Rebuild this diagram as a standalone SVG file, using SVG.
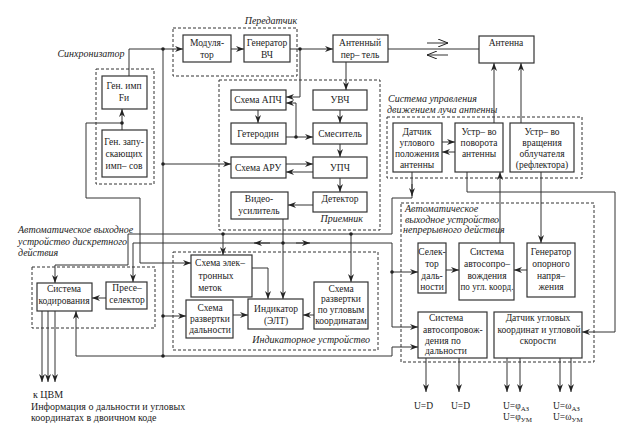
<svg xmlns="http://www.w3.org/2000/svg" width="631" height="432" viewBox="0 0 631 432">
<defs>
<marker id="a" viewBox="0 0 8 6" refX="8" refY="3" markerWidth="8" markerHeight="6" markerUnits="userSpaceOnUse" orient="auto"><path d="M0,0 L8,3 L0,6 L2.5,3 z" fill="#222"/></marker>
<marker id="o" viewBox="0 0 10 8" refX="10" refY="4" markerWidth="10" markerHeight="8" markerUnits="userSpaceOnUse" orient="auto"><path d="M0,0 L10,4 L0,8" fill="none" stroke="#222" stroke-width="1"/></marker>
</defs>
<style>
.b{fill:#fff;stroke:#333;stroke-width:1.2}
.g{fill:none;stroke:#333;stroke-width:1;stroke-dasharray:3,2}
.l{fill:none;stroke:#333;stroke-width:1}
.l2{fill:none;stroke:#333;stroke-width:1;marker-end:url(#a)}
.t{font-family:"Liberation Serif","Times New Roman",serif;font-size:9.5px;fill:#222;text-anchor:middle}
.s{font-family:"Liberation Serif","Times New Roman",serif;font-size:9.5px;fill:#222}
.i{font-family:"Liberation Serif","Times New Roman",serif;font-size:10px;font-style:italic;fill:#222}
.n{font-family:"Liberation Serif","Times New Roman",serif;font-size:10px;fill:#222}
.d{fill:#222}
</style>
<rect width="631" height="432" fill="#fff"/>

<g id="groups">
<rect class="g" x="173" y="28" width="124" height="48"/>
<text class="i" x="271" y="24" text-anchor="middle">Передатчик</text>
<rect class="g" x="96" y="69" width="58" height="115"/>
<text class="i" x="91" y="57" text-anchor="middle">Синхронизатор</text>
<rect class="g" x="219" y="80" width="161" height="150"/>
<text class="i" x="363" y="222" text-anchor="end">Приемник</text>
<rect class="g" x="387" y="117" width="195" height="61"/>
<text class="i" x="388" y="102">Система управления</text>
<text class="i" x="387" y="113">движением луча антенны</text>
<rect class="g" x="401" y="203" width="193" height="159"/>
<text class="i" x="405" y="212">Автоматическое</text>
<text class="i" x="405" y="223">выходное устройство</text>
<text class="i" x="403" y="233">непрерывного действия</text>
<rect class="g" x="32" y="267" width="123" height="61"/>
<text class="i" x="18" y="233">Автоматическое выходное</text>
<text class="i" x="18" y="245">устройство дискретного</text>
<text class="i" x="18" y="256">действия</text>
<rect class="g" x="173" y="252" width="205" height="98"/>
<text class="i" x="370" y="343" text-anchor="end">Индикаторное устройство</text>
</g>

<g id="connectors">
<path class="l2" d="M129,76 V49 H183"/>
<path class="l2" d="M231,49 H244"/>
<path class="l2" d="M290,49 H333"/>
<path class="l" d="M388,49 H479"/>
<path class="l" d="M427,43 H448" marker-end="url(#o)"/>
<path class="l" d="M448,55 H427" marker-end="url(#o)"/>
<path class="l2" d="M346,62 V90"/>
<path class="l2" d="M300,49 V97 H286"/>
<path class="l2" d="M286,137 H313"/>
<path class="l2" d="M296,137 V103 H286"/>
<path class="l2" d="M258,110 V123"/>
<path class="l2" d="M340,110 V123"/>
<path class="l2" d="M340,144 V157"/>
<path class="l2" d="M340,178 V192"/>
<path class="l2" d="M313,205 H288"/>
<path class="l2" d="M286,164 H313"/>
<path class="l2" d="M313,172 H286"/>
<path class="l" d="M163,49 V356"/>
<path class="l2" d="M163,164 H231"/>
<path class="l2" d="M163,316 H186"/>
<path class="l2" d="M163,356 H76 V311"/>
<path class="l2" d="M163,356 H392 V347 H418"/>
<path class="l2" d="M122,130 V109"/>
<path class="l2" d="M122,123 H86 V198 H140 V263 H191"/>
<path class="l2" d="M283,219 V299"/>
<path class="l2" d="M392,243 H133 V282"/>
<path class="l2" d="M392,243 V327 H418"/>
<path class="l2" d="M392,272 H418"/>
<path class="l2" d="M270,243 H254"/>
<path class="l2" d="M296,243 H310"/>
<path class="l" d="M412,172 V198 H392 V234 H128 V265 H55 V283" marker-end="url(#a)"/>
<path class="l2" d="M412,184 V196"/>
<path class="l2" d="M223,234 V255"/>
<path class="l2" d="M351,234 V282"/>
<path class="l2" d="M252,268 H268 V299"/>
<path class="l2" d="M233,315 H248"/>
<path class="l2" d="M314,315 H303"/>
<path class="l2" d="M106,298 H92"/>
<path class="l2" d="M42,311 V382"/>
<path class="l2" d="M48,311 V382"/>
<path class="l2" d="M55,311 V382"/>
<path class="l2" d="M442,142 H455"/>
<path class="l2" d="M455,152 H442"/>
<path class="l2" d="M494,123 V63"/>
<path class="l2" d="M521,123 V63"/>
<path class="l2" d="M500,243 V172"/>
<path class="l2" d="M541,172 V243"/>
<path class="l2" d="M467,172 V192 H615 V332 H582"/>
<path class="l2" d="M446,270 H459"/>
<path class="l2" d="M527,270 H514"/>
<path class="l2" d="M426,358 V392"/>
<path class="l2" d="M459,358 V392"/>
<path class="l2" d="M507,358 V392"/>
<path class="l2" d="M520,358 V392"/>
<path class="l2" d="M560,358 V392"/>
<path class="l2" d="M571,358 V392"/>
<circle class="d" cx="163" cy="49" r="1.8"/>
<circle class="d" cx="300" cy="49" r="1.8"/>
<circle class="d" cx="296" cy="137" r="1.8"/>
<circle class="d" cx="163" cy="164" r="1.8"/>
<circle class="d" cx="163" cy="316" r="1.8"/>
<circle class="d" cx="163" cy="356" r="1.8"/>
<circle class="d" cx="122" cy="123" r="1.8"/>
<circle class="d" cx="283" cy="243" r="1.8"/>
<circle class="d" cx="392" cy="272" r="1.8"/>
<circle class="d" cx="223" cy="234" r="1.8"/>
<circle class="d" cx="351" cy="234" r="1.8"/>
</g>

<g id="modulator"><rect class="b" x="183" y="35" width="48" height="27"/><text class="t" x="207" y="46">Модуля-</text><text class="t" x="207" y="58">тор</text></g>
<g id="generator-vch"><rect class="b" x="244" y="35" width="46" height="27"/><text class="t" x="267" y="46">Генератор</text><text class="t" x="267" y="58">ВЧ</text></g>
<g id="antenna-switch"><rect class="b" x="333" y="35" width="55" height="27"/><text class="t" x="360" y="46">Антенный</text><text class="t" x="360" y="58">пер– тель</text></g>
<g id="antenna"><rect class="b" x="479" y="36" width="55" height="27"/><text class="t" x="506" y="46">Антенна</text></g>
<g id="gen-fi"><rect class="b" x="102" y="76" width="45" height="33"/><text class="t" x="124" y="89">Ген. имп</text><text class="t" x="124" y="101">Fи</text></g>
<g id="gen-trigger"><rect class="b" x="102" y="130" width="45" height="47"/><text class="t" x="124" y="145">Ген. запу-</text><text class="t" x="124" y="157">скающих</text><text class="t" x="124" y="169">имп– сов</text></g>
<g id="apch"><rect class="b" x="231" y="90" width="55" height="20"/><text class="t" x="258" y="103">Схема АПЧ</text></g>
<g id="uvch"><rect class="b" x="313" y="90" width="54" height="20"/><text class="t" x="340" y="103">УВЧ</text></g>
<g id="heterodyne"><rect class="b" x="231" y="123" width="55" height="21"/><text class="t" x="258" y="137">Гетеродин</text></g>
<g id="mixer"><rect class="b" x="313" y="123" width="54" height="21"/><text class="t" x="340" y="137">Смеситель</text></g>
<g id="aru"><rect class="b" x="231" y="157" width="55" height="21"/><text class="t" x="258" y="171">Схема АРУ</text></g>
<g id="upch"><rect class="b" x="313" y="157" width="54" height="21"/><text class="t" x="340" y="171">УПЧ</text></g>
<g id="video-amp"><rect class="b" x="231" y="192" width="57" height="27"/><text class="t" x="259" y="202">Видео-</text><text class="t" x="259" y="214">усилитель</text></g>
<g id="detector"><rect class="b" x="313" y="192" width="54" height="20"/><text class="t" x="340" y="202">Детектор</text></g>
<g id="angle-sensor"><rect class="b" x="393" y="123" width="49" height="49"/><text class="t" x="417" y="135">Датчик</text><text class="t" x="417" y="146">углового</text><text class="t" x="417" y="157">положения</text><text class="t" x="417" y="168">антенны</text></g>
<g id="rotation-dev"><rect class="b" x="455" y="123" width="48" height="49"/><text class="t" x="479" y="135">Устр– во</text><text class="t" x="479" y="146">поворота</text><text class="t" x="479" y="157">антенны</text></g>
<g id="feed-dev"><rect class="b" x="510" y="123" width="64" height="49"/><text class="t" x="542" y="135">Устр– во</text><text class="t" x="542" y="146">вращения</text><text class="t" x="542" y="157">облучателя</text><text class="t" x="542" y="168">(рефлектора)</text></g>
<g id="range-selector"><rect class="b" x="418" y="243" width="28" height="50"/><text class="t" x="432" y="255">Селек-</text><text class="t" x="432" y="267">тор</text><text class="t" x="432" y="279">даль-</text><text class="t" x="432" y="290">ности</text></g>
<g id="angle-tracking"><rect class="b" x="459" y="243" width="55" height="57"/><text class="t" x="487" y="255">Система</text><text class="t" x="487" y="267">автосопро–</text><text class="t" x="487" y="279">вождения</text><text class="t" x="487" y="290" textLength="53" lengthAdjust="spacingAndGlyphs">по угл. коорд.</text></g>
<g id="ref-gen"><rect class="b" x="527" y="243" width="48" height="54"/><text class="t" x="551" y="255">Генератор</text><text class="t" x="551" y="267">опорного</text><text class="t" x="551" y="279">напря–</text><text class="t" x="551" y="290">жения</text></g>
<g id="range-tracking"><rect class="b" x="418" y="312" width="69" height="46"/><text class="s" x="429" y="321">Система</text><text class="s" x="423" y="333">автосопровож-</text><text class="s" x="425" y="344">дения по</text><text class="s" x="425" y="354">дальности</text></g>
<g id="angle-rate-sensor"><rect class="b" x="494" y="312" width="88" height="46"/><text class="t" x="538" y="321">Датчик угловых</text><text class="t" x="539" y="333">координат и угловой</text><text class="t" x="538" y="344">скорости</text></g>
<g id="coding"><rect class="b" x="37" y="283" width="55" height="28"/><text class="t" x="64" y="292">Система</text><text class="t" x="64" y="304">кодирования</text></g>
<g id="preselector"><rect class="b" x="106" y="282" width="41" height="27"/><text class="t" x="127" y="291">Пресе–</text><text class="t" x="127" y="303">селектор</text></g>
<g id="markers"><rect class="b" x="191" y="255" width="61" height="42"/><text class="t" x="220" y="266">Схема элек–</text><text class="t" x="216" y="279">тронных</text><text class="t" x="210" y="291">меток</text></g>
<g id="range-sweep"><rect class="b" x="186" y="300" width="47" height="38"/><text class="t" x="210" y="311">Схема</text><text class="t" x="210" y="322">развертки</text><text class="t" x="210" y="333">дальности</text></g>
<g id="indicator"><rect class="b" x="248" y="299" width="55" height="30"/><text class="t" x="276" y="312">Индикатор</text><text class="t" x="276" y="324">(ЭЛТ)</text></g>
<g id="angle-sweep"><rect class="b" x="314" y="282" width="54" height="47"/><text class="t" x="341" y="292">Схема</text><text class="t" x="341" y="302">развертки</text><text class="t" x="341" y="313">по угловым</text><text class="t" x="341" y="324">координатам</text></g>

<g id="labels">
<text class="n" x="33" y="398">к ЦВМ</text>
<text class="n" x="31" y="410">Информация о дальности и угловых</text>
<text class="n" x="31" y="421">координатах в двоичном коде</text>
<text class="s" x="414" y="409">U=D</text>
<text class="s" x="451" y="409">U=D</text>
<text class="s" x="503" y="409">U=φ<tspan font-size="7" dy="2">АЗ</tspan></text>
<text class="s" x="503" y="420">U=φ<tspan font-size="7" dy="2">УМ</tspan></text>
<text class="s" x="553" y="409">U=ω<tspan font-size="7" dy="2">АЗ</tspan></text>
<text class="s" x="553" y="420">U=ω<tspan font-size="7" dy="2">УМ</tspan></text>
</g>
</svg>
